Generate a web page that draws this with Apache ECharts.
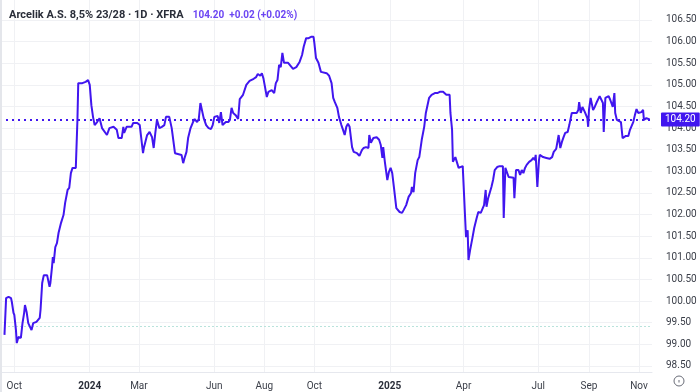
<!DOCTYPE html>
<html>
<head>
<meta charset="utf-8">
<script src="https://cdn.jsdelivr.net/npm/echarts@6/dist/echarts.min.js"></script>
<style>
html,body{margin:0;padding:0;background:#ffffff;}
#chart{width:700px;height:392px;}
</style>
</head>
<body>
<div id="chart"></div>
<script>
const titleText = 'Arcelik A.S. 8,5% 23/28 · 1D · XFRA';
const quoteText = '104.20  +0.02 (+0.02%)';
const lastPrice = 104.20;
const baseLevel = 99.42;

const dates = [
'2023-09-19','2023-09-21','2023-09-24','2023-09-27','2023-09-28','2023-09-30','2023-10-01','2023-10-03','2023-10-04','2023-10-06',
'2023-10-09','2023-10-11','2023-10-13','2023-10-14','2023-10-16','2023-10-18','2023-10-22','2023-10-24','2023-10-26','2023-10-28',
'2023-11-01','2023-11-02','2023-11-04','2023-11-06','2023-11-10','2023-11-13','2023-11-14','2023-11-16','2023-11-17','2023-11-18',
'2023-11-20','2023-11-22','2023-11-24','2023-11-27','2023-11-30','2023-12-02','2023-12-05','2023-12-07','2023-12-09','2023-12-11',
'2023-12-15','2023-12-17','2023-12-18','2023-12-20','2023-12-23','2023-12-27','2023-12-30','2024-01-01','2024-01-03','2024-01-05',
'2024-01-07','2024-01-10','2024-01-13','2024-01-16','2024-01-18','2024-01-22','2024-01-25','2024-01-30','2024-02-03','2024-02-05',
'2024-02-09','2024-02-11','2024-02-12','2024-02-15','2024-02-21','2024-02-23','2024-02-25','2024-02-28','2024-03-02','2024-03-06',
'2024-03-07','2024-03-11','2024-03-14','2024-03-17','2024-03-19','2024-03-21','2024-03-23','2024-03-26','2024-03-29','2024-04-01',
'2024-04-03','2024-04-07','2024-04-10','2024-04-12','2024-04-14','2024-04-22','2024-04-24','2024-04-26','2024-04-28','2024-04-30',
'2024-05-03','2024-05-06','2024-05-08','2024-05-11','2024-05-13','2024-05-15','2024-05-17','2024-05-19','2024-05-22','2024-05-25',
'2024-05-28','2024-05-30','2024-06-01','2024-06-05','2024-06-07','2024-06-09','2024-06-11','2024-06-13','2024-06-15','2024-06-18',
'2024-06-20','2024-06-22','2024-06-24','2024-06-27','2024-06-30','2024-07-02','2024-07-06','2024-07-08','2024-07-10','2024-07-14',
'2024-07-19','2024-07-22','2024-07-24','2024-07-27','2024-07-29','2024-07-31','2024-08-02','2024-08-04','2024-08-06','2024-08-08',
'2024-08-10','2024-08-13','2024-08-15','2024-08-17','2024-08-19','2024-08-21','2024-08-23','2024-08-25','2024-08-27','2024-08-30',
'2024-09-01','2024-09-05','2024-09-09','2024-09-13','2024-09-16','2024-09-18','2024-09-21','2024-09-24','2024-09-27','2024-09-30',
'2024-10-01','2024-10-03','2024-10-06','2024-10-09','2024-10-11','2024-10-16','2024-10-19','2024-10-22','2024-10-24','2024-10-26',
'2024-10-29','2024-10-31','2024-11-03','2024-11-05','2024-11-07','2024-11-09','2024-11-11','2024-11-13','2024-11-16','2024-11-18',
'2024-11-22','2024-11-25','2024-11-28','2024-11-30','2024-12-03','2024-12-06','2024-12-07','2024-12-09','2024-12-12','2024-12-16',
'2024-12-19','2024-12-21','2024-12-23','2024-12-24','2024-12-26','2024-12-29','2024-12-31','2025-01-02','2025-01-04','2025-01-06',
'2025-01-09','2025-01-11','2025-01-13','2025-01-16','2025-01-18','2025-01-21','2025-01-24','2025-01-27','2025-01-28','2025-01-30',
'2025-02-01','2025-02-04','2025-02-06','2025-02-09','2025-02-12','2025-02-14','2025-02-16','2025-02-18','2025-02-21','2025-02-25',
'2025-02-28','2025-03-03','2025-03-07','2025-03-09','2025-03-11','2025-03-15','2025-03-16','2025-03-18','2025-03-19','2025-03-22',
'2025-03-24','2025-03-26','2025-03-28','2025-03-31','2025-04-02','2025-04-04','2025-04-06','2025-04-07','2025-04-09','2025-04-11',
'2025-04-12','2025-04-14','2025-04-17','2025-04-19','2025-04-22','2025-04-24','2025-04-26','2025-04-28','2025-04-29','2025-05-01',
'2025-05-03','2025-05-05','2025-05-07','2025-05-09','2025-05-12','2025-05-15','2025-05-19','2025-05-20','2025-05-22','2025-05-26',
'2025-06-01','2025-06-02','2025-06-04','2025-06-07','2025-06-09','2025-06-11','2025-06-13','2025-06-15','2025-06-17','2025-06-20',
'2025-06-23','2025-06-25','2025-06-27','2025-06-28','2025-06-30','2025-07-02','2025-07-03','2025-07-07','2025-07-11','2025-07-15',
'2025-07-18','2025-07-20','2025-07-23','2025-07-26','2025-07-28','2025-07-30','2025-08-01','2025-08-03','2025-08-06','2025-08-08',
'2025-08-11','2025-08-13','2025-08-17','2025-08-19','2025-08-20','2025-08-22','2025-08-24','2025-08-27','2025-08-30','2025-08-31',
'2025-09-01','2025-09-03','2025-09-06','2025-09-08','2025-09-10','2025-09-12','2025-09-14','2025-09-15','2025-09-18','2025-09-19',
'2025-09-21','2025-09-23','2025-09-25','2025-09-27','2025-09-30','2025-10-02','2025-10-03','2025-10-05','2025-10-07','2025-10-10',
'2025-10-12','2025-10-14','2025-10-16','2025-10-19','2025-10-21','2025-10-23','2025-10-25','2025-10-27','2025-10-29','2025-10-31',
'2025-11-02','2025-11-04','2025-11-06','2025-11-07','2025-11-09','2025-11-10','2025-11-12','2025-11-14'
];

const prices = [
99.22,100.07,100.10,100.07,99.98,99.73,99.68,99.33,99.03,99.17,
99.15,99.49,99.73,99.91,99.75,99.49,99.33,99.49,99.45,99.52,
99.61,99.80,100.42,100.60,100.60,100.33,100.42,100.79,101.02,100.88,
101.25,101.34,101.58,101.81,101.99,102.27,102.57,102.62,102.96,103.08,
103.08,104.19,105.04,105.07,105.04,105.07,105.11,105.00,104.53,104.26,
104.07,104.14,104.23,104.00,104.00,103.84,104.00,104.03,103.96,103.77,
103.77,104.03,103.89,104.03,104.03,104.12,104.14,104.12,104.07,103.42,
103.54,103.84,103.91,103.79,103.54,103.89,104.19,104.00,104.03,104.07,
104.26,104.26,104.00,103.96,103.42,103.38,103.19,103.33,103.45,103.77,
104.00,104.14,104.21,104.14,104.21,104.58,104.58,104.23,104.07,104.00,
103.98,104.07,104.26,104.28,104.12,104.37,104.07,104.03,104.14,104.14,
104.19,104.47,104.35,104.30,104.21,104.67,104.77,104.81,105.00,105.09,
105.14,105.18,105.25,105.21,105.27,105.14,104.93,104.72,104.84,104.81,
104.88,104.81,105.04,105.11,105.46,105.41,105.74,105.51,105.53,105.51,
105.53,105.37,105.41,105.53,105.69,105.88,106.08,106.08,106.11,106.11,
105.97,105.62,105.51,105.30,105.27,105.27,105.21,105.04,104.70,104.60,
104.47,104.26,104.07,103.96,103.84,104.03,104.10,104.03,103.56,103.45,
103.42,103.36,103.49,103.54,103.56,103.54,103.84,103.66,103.77,103.79,
103.73,103.61,103.31,103.56,103.22,102.80,102.99,103.08,102.96,102.64,
102.15,102.11,102.06,102.04,102.11,102.22,102.41,102.50,102.64,102.52,
102.96,103.26,103.33,103.73,104.03,104.35,104.37,104.70,104.77,104.81,
104.81,104.84,104.84,104.88,104.77,104.77,104.35,103.96,103.22,103.33,
103.33,103.08,103.10,103.12,103.10,101.48,101.64,100.95,101.18,101.18,
101.48,101.69,101.92,102.06,102.04,102.04,102.22,102.57,102.18,102.38,
102.41,102.64,102.80,103.03,103.10,103.12,103.12,101.92,103.08,102.87,
102.85,102.38,103.03,103.03,102.92,103.03,102.96,103.08,103.15,103.22,
103.26,103.31,103.26,103.38,102.64,103.26,103.38,103.33,103.31,103.29,
103.33,103.45,103.52,103.84,103.54,103.68,103.79,103.89,103.91,104.07,
104.35,104.37,104.35,104.42,104.60,104.35,104.49,104.37,104.23,104.03,
104.42,104.70,104.42,104.49,104.58,104.60,104.74,104.77,104.58,103.91,
104.70,104.72,104.74,104.65,104.49,104.81,104.35,104.19,104.23,104.14,
103.77,103.75,103.82,103.82,103.96,104.00,104.14,104.30,104.44,104.35,
104.37,104.37,104.42,104.19,104.19,104.23,104.21,104.20
];

const tickDates = ['2023-10-01','2024-01-01','2024-03-01','2024-06-01','2024-08-01','2024-10-01','2025-01-01','2025-04-01','2025-07-01','2025-09-01','2025-11-01'];
const tickLabels = ['Oct','2024','Mar','Jun','Aug','Oct','2025','Apr','Jul','Sep','Nov'];
const yTicks = [98.5,99,99.5,100,100.5,101,101.5,102,102.5,103,103.5,104,104.5,105,105.5,106,106.5];

const lineColor = '#4116ef';
const toTime = s => +echarts.time.parse(s);
const tickTimes = tickDates.map(toTime);
const seriesData = dates.map((d, i) => [toTime(d), prices[i]]);

const chart = echarts.init(document.getElementById('chart'), null, {renderer: 'canvas'});
chart.setOption({
  animation: false,
  backgroundColor: '#ffffff',
  textStyle: {fontFamily: 'Roboto'},
  title: {
    left: 9, top: 6, padding: 0,
    text: '{a|' + titleText + '}  {b|' + quoteText + '}',
    textStyle: {
      rich: {
        a: {fontSize: 11, color: '#2a2e39', fontFamily: 'Roboto'},
        b: {fontSize: 10, color: '#6c46f3', fontFamily: 'Roboto'}
      }
    }
  },
  grid: {left: 0, right: 48, top: 0, bottom: 20},
  xAxis: {
    type: 'value',
    min: toTime('2023-09-13 13:00'),
    max: toTime('2025-11-16 21:00'),
    axisLine: {show: true, lineStyle: {color: '#e6e8ee'}},
    axisTick: {show: false, customValues: tickTimes},
    splitLine: {show: true, lineStyle: {color: '#f0f1f4', width: 1}},
    axisLabel: {
      customValues: tickTimes,
      margin: 9,
      fontSize: 10,
      color: '#3a3e48',
      formatter: function (v) {
        const i = tickTimes.indexOf(+v);
        if (i < 0) return '';
        const t = tickLabels[i];
        return /^\d{4}$/.test(t) ? '{y|' + t + '}' : t;
      },
      rich: {y: {fontWeight: 'bold', fontSize: 10, color: '#2a2e39'}}
    }
  },
  yAxis: {
    type: 'value',
    position: 'right',
    min: 98.361,
    max: 106.962,
    axisLine: {show: false},
    axisTick: {show: false, customValues: yTicks},
    splitLine: {show: true, lineStyle: {color: '#f0f1f4', width: 1}},
    axisLabel: {
      customValues: yTicks,
      margin: 14,
      fontSize: 10,
      color: '#3a3e48',
      formatter: v => Number(v).toFixed(2)
    }
  },
  series: [{
    type: 'line',
    data: seriesData,
    showSymbol: false,
    symbol: 'none',
    lineStyle: {color: lineColor, width: 2},
    z: 5,
    markLine: {
      silent: true,
      symbol: 'none',
      animation: false,
      data: [
        {
          yAxis: lastPrice,
          lineStyle: {color: lineColor, type: [2, 4], width: 2},
          label: {
            show: true, position: 'end', distance: 9,
            formatter: lastPrice.toFixed(2),
            color: '#ffffff', backgroundColor: lineColor,
            fontSize: 10, padding: [2, 4, 2, 4], borderRadius: 1
          }
        },
        {
          yAxis: baseLevel,
          lineStyle: {color: '#b9e3dc', type: [2, 2], width: 1},
          label: {show: false}
        }
      ]
    }
  }],
  graphic: {
    elements: [
      {type: 'rect', x: 0, y: 0, shape: {x: 0, y: 0, width: 2, height: 392}, style: {fill: '#e4e6eb'}, silent: true, z: 100},
      {type: 'circle', x: 679, y: 381, shape: {cx: 0, cy: 0, r: 5}, style: {fill: '#ffffff', stroke: '#6a6d78', lineWidth: 1}, silent: true, z: 100},
      {type: 'rect', x: 678.5, y: 380, shape: {x: 0, y: 0, width: 1, height: 2.5}, style: {fill: '#6a6d78'}, silent: true, z: 101}
    ]
  }
});
</script>
</body>
</html>
